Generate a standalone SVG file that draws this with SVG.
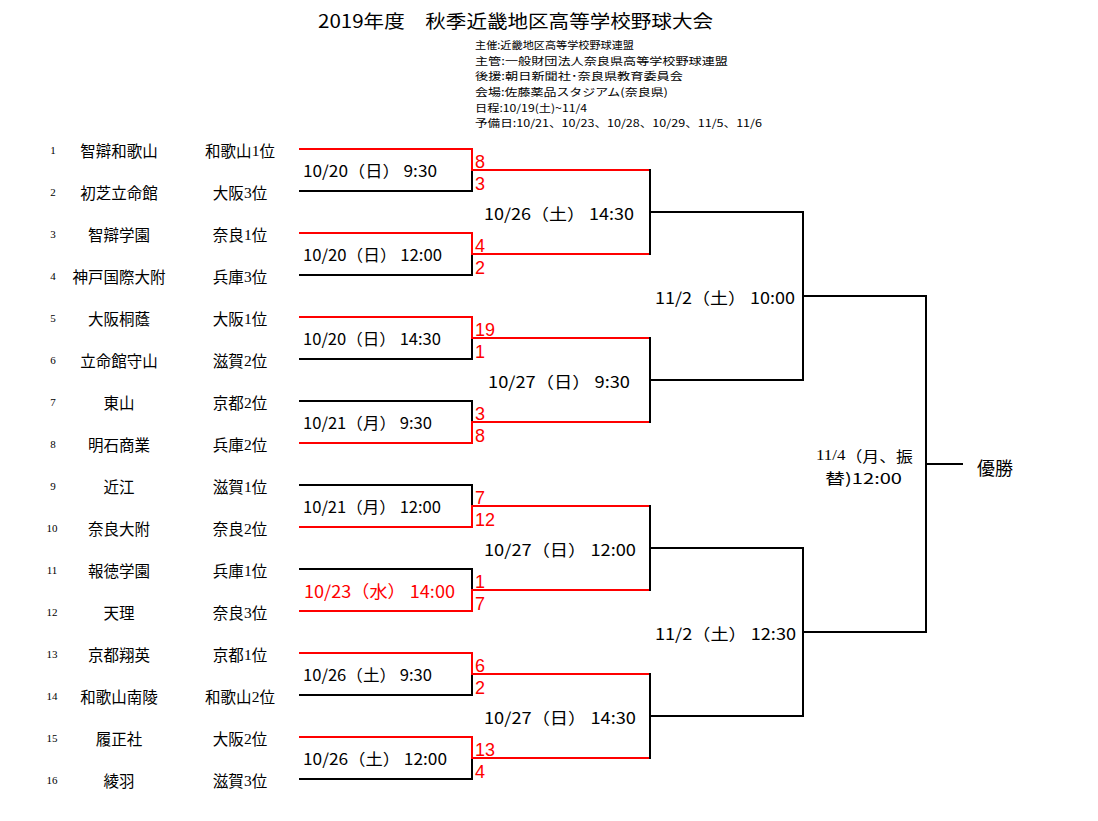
<svg xmlns="http://www.w3.org/2000/svg" width="1098" height="821" viewBox="0 0 1098 821">
<style>
text{font-family:"Noto Sans CJK JP","Noto Sans",sans-serif;fill:#000;dominant-baseline:central}
.t{font-size:18px}
.info{font-size:10.6px}
.num{font-family:"Liberation Serif","Noto Sans CJK JP",serif;font-size:11px;text-anchor:middle}
.team{font-size:15.5px;text-anchor:middle}
.rank{font-size:15.5px;text-anchor:middle}
.dg{font-family:"Liberation Serif",serif}
.lbl{font-size:16px}
.red{fill:#ff0000}
.sc{font-family:"Liberation Sans",sans-serif;font-size:18px;fill:#ff0000;dominant-baseline:auto}
.k{stroke:#000;stroke-width:2;fill:none;stroke-linecap:square}
.r{stroke:#ff0000;stroke-width:2;fill:none;stroke-linecap:square}
</style>
<rect width="1098" height="821" fill="#fff"/>
<g id="header">
<text class="t" x="318" y="20" textLength="395" lengthAdjust="spacingAndGlyphs">2019年度　秋季近畿地区高等学校野球大会</text>
<text class="info" x="475" y="44" textLength="159" lengthAdjust="spacingAndGlyphs">主催:近畿地区高等学校野球連盟</text>
<text class="info" x="475" y="60" textLength="253" lengthAdjust="spacingAndGlyphs">主管:一般財団法人奈良県高等学校野球連盟</text>
<text class="info" x="475" y="75.5" textLength="208" lengthAdjust="spacingAndGlyphs">後援:朝日新聞社･奈良県教育委員会</text>
<text class="info" x="475" y="91" textLength="193" lengthAdjust="spacingAndGlyphs">会場:佐藤薬品スタジアム(奈良県)</text>
<text class="info" x="475" y="107" textLength="112" lengthAdjust="spacingAndGlyphs">日程:10/19(土)~11/4</text>
<text class="info" x="475" y="122.5" textLength="287" lengthAdjust="spacingAndGlyphs">予備日:10/21、10/23、10/28、10/29、11/5、11/6</text>
</g>
<g id="connectors">
<path class="r" d="M300 149H472V170"/><path class="k" d="M300 191H472V170"/>
<path class="r" d="M300 233H472V254"/><path class="k" d="M300 275H472V254"/>
<path class="r" d="M300 317H472V338"/><path class="k" d="M300 359H472V338"/>
<path class="k" d="M300 401H472V422"/><path class="r" d="M300 443H472V422"/>
<path class="k" d="M300 485H472V506"/><path class="r" d="M300 527H472V506"/>
<path class="k" d="M300 569H472V590"/><path class="r" d="M300 611H472V590"/>
<path class="r" d="M300 653H472V674"/><path class="k" d="M300 695H472V674"/>
<path class="r" d="M300 737H472V758"/><path class="k" d="M300 779H472V758"/>
<path class="r" d="M472 170H649M472 254H649M472 338H649M472 422H649M472 506H649M472 590H649M472 674H649M472 758H649"/>
<path class="k" d="M650 170V254M650 338V422M650 506V590M650 674V758"/>
<path class="k" d="M650 212H803M650 380H803M650 548H803M650 716H803"/>
<path class="k" d="M803 212V380M803 548V716"/>
<path class="k" d="M803 296H926M803 632H926"/>
<path class="k" d="M926 296V632M926 464H962"/>
</g>
<g id="team1"><text class="num" x="53" y="150">1</text><text class="team" x="119" y="150">智辯和歌山</text><text class="rank" x="240" y="150">和歌山<tspan class="dg">1</tspan>位</text></g>
<g id="team2"><text class="num" x="53" y="192">2</text><text class="team" x="119" y="192">初芝立命館</text><text class="rank" x="240" y="192">大阪<tspan class="dg">3</tspan>位</text></g>
<g id="team3"><text class="num" x="53" y="234">3</text><text class="team" x="119" y="234">智辯学園</text><text class="rank" x="240" y="234">奈良<tspan class="dg">1</tspan>位</text></g>
<g id="team4"><text class="num" x="53" y="276">4</text><text class="team" x="119" y="276">神戸国際大附</text><text class="rank" x="240" y="276">兵庫<tspan class="dg">3</tspan>位</text></g>
<g id="team5"><text class="num" x="53" y="318">5</text><text class="team" x="119" y="318">大阪桐蔭</text><text class="rank" x="240" y="318">大阪<tspan class="dg">1</tspan>位</text></g>
<g id="team6"><text class="num" x="53" y="360">6</text><text class="team" x="119" y="360">立命館守山</text><text class="rank" x="240" y="360">滋賀<tspan class="dg">2</tspan>位</text></g>
<g id="team7"><text class="num" x="53" y="402">7</text><text class="team" x="119" y="402">東山</text><text class="rank" x="240" y="402">京都<tspan class="dg">2</tspan>位</text></g>
<g id="team8"><text class="num" x="53" y="444">8</text><text class="team" x="119" y="444">明石商業</text><text class="rank" x="240" y="444">兵庫<tspan class="dg">2</tspan>位</text></g>
<g id="team9"><text class="num" x="53" y="486">9</text><text class="team" x="119" y="486">近江</text><text class="rank" x="240" y="486">滋賀<tspan class="dg">1</tspan>位</text></g>
<g id="team10"><text class="num" x="52" y="528">10</text><text class="team" x="119" y="528">奈良大附</text><text class="rank" x="240" y="528">奈良<tspan class="dg">2</tspan>位</text></g>
<g id="team11"><text class="num" x="52" y="570">11</text><text class="team" x="119" y="570">報徳学園</text><text class="rank" x="240" y="570">兵庫<tspan class="dg">1</tspan>位</text></g>
<g id="team12"><text class="num" x="52" y="612">12</text><text class="team" x="119" y="612">天理</text><text class="rank" x="240" y="612">奈良<tspan class="dg">3</tspan>位</text></g>
<g id="team13"><text class="num" x="52" y="654">13</text><text class="team" x="119" y="654">京都翔英</text><text class="rank" x="240" y="654">京都<tspan class="dg">1</tspan>位</text></g>
<g id="team14"><text class="num" x="52" y="696">14</text><text class="team" x="119" y="696">和歌山南陵</text><text class="rank" x="240" y="696">和歌山<tspan class="dg">2</tspan>位</text></g>
<g id="team15"><text class="num" x="52" y="738">15</text><text class="team" x="119" y="738">履正社</text><text class="rank" x="240" y="738">大阪<tspan class="dg">2</tspan>位</text></g>
<g id="team16"><text class="num" x="52" y="780">16</text><text class="team" x="119" y="780">綾羽</text><text class="rank" x="240" y="780">滋賀<tspan class="dg">3</tspan>位</text></g>
<g id="match1"><text class="lbl" x="303" y="170" textLength="134" lengthAdjust="spacingAndGlyphs">10/20（日） 9:30</text><text class="sc" x="475" y="168">8</text><text class="sc" x="475" y="190">3</text></g>
<g id="match2"><text class="lbl" x="303" y="254" textLength="139" lengthAdjust="spacingAndGlyphs">10/20（日） 12:00</text><text class="sc" x="475" y="252">4</text><text class="sc" x="475" y="274">2</text></g>
<g id="match3"><text class="lbl" x="303" y="338" textLength="138" lengthAdjust="spacingAndGlyphs">10/20（日） 14:30</text><text class="sc" x="475" y="336">19</text><text class="sc" x="475" y="358">1</text></g>
<g id="match4"><text class="lbl" x="303" y="422" textLength="129" lengthAdjust="spacingAndGlyphs">10/21（月） 9:30</text><text class="sc" x="475" y="420">3</text><text class="sc" x="475" y="442">8</text></g>
<g id="match5"><text class="lbl" x="303" y="506" textLength="138" lengthAdjust="spacingAndGlyphs">10/21（月） 12:00</text><text class="sc" x="475" y="504">7</text><text class="sc" x="475" y="526">12</text></g>
<g id="match6"><text class="lbl red" x="304" y="590" style="font-size:17px" textLength="151" lengthAdjust="spacingAndGlyphs">10/23（水） 14:00</text><text class="sc" x="475" y="588">1</text><text class="sc" x="475" y="610">7</text></g>
<g id="match7"><text class="lbl" x="303" y="674" textLength="129" lengthAdjust="spacingAndGlyphs">10/26（土） 9:30</text><text class="sc" x="475" y="672">6</text><text class="sc" x="475" y="694">2</text></g>
<g id="match8"><text class="lbl" x="303" y="758" textLength="144" lengthAdjust="spacingAndGlyphs">10/26（土） 12:00</text><text class="sc" x="475" y="756">13</text><text class="sc" x="475" y="778">4</text></g>
<g id="match9"><text class="lbl" x="484" y="213" textLength="150" lengthAdjust="spacingAndGlyphs">10/26（土） 14:30</text></g>
<g id="match10"><text class="lbl" x="488" y="381" textLength="142" lengthAdjust="spacingAndGlyphs">10/27（日） 9:30</text></g>
<g id="match11"><text class="lbl" x="484" y="549" textLength="152" lengthAdjust="spacingAndGlyphs">10/27（日） 12:00</text></g>
<g id="match12"><text class="lbl" x="484" y="717" textLength="152" lengthAdjust="spacingAndGlyphs">10/27（日） 14:30</text></g>
<g id="match13"><text class="lbl" x="655" y="297" textLength="140" lengthAdjust="spacingAndGlyphs">11/2（土） 10:00</text></g>
<g id="match14"><text class="lbl" x="655" y="633" textLength="141" lengthAdjust="spacingAndGlyphs">11/2（土） 12:30</text></g>
<g id="final"><text class="lbl" x="816" y="455" style="font-size:15px" textLength="97" lengthAdjust="spacingAndGlyphs"><tspan class="dg">11/4</tspan>（月、振</text><text class="lbl" x="825" y="477" style="font-size:15px" textLength="77" lengthAdjust="spacingAndGlyphs">替)12:00</text></g>
<g id="champion"><text class="lbl" x="977" y="467" style="font-size:18px" textLength="36" lengthAdjust="spacingAndGlyphs">優勝</text></g>
</svg>
